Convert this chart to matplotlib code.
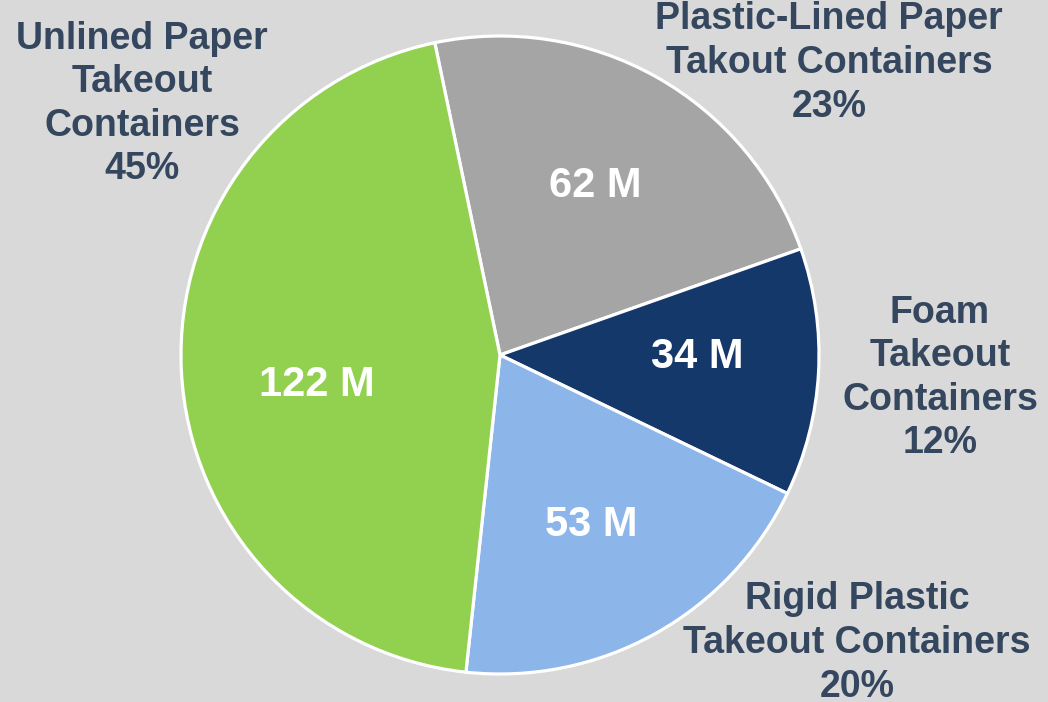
import matplotlib
matplotlib.use("Agg")
import matplotlib.pyplot as plt

categories = ["Plastic-Lined Paper\nTakout Containers", "Foam\nTakeout\nContainers",
              "Rigid Plastic\nTakeout Containers", "Unlined Paper\nTakeout\nContainers"]
values = [62, 34, 53, 122]          # millions
percent_labels = ["23%", "12%", "20%", "45%"]
value_labels = ["62 M", "34 M", "53 M", "122 M"]
colors = ["#A5A5A5", "#15386A", "#8CB5E9", "#92D050"]

W, H = 1048, 702
fig = plt.figure(figsize=(W / 100, H / 100), dpi=100)
fig.patch.set_facecolor("#D9D9D9")
ax = fig.add_axes([0, 0, 1, 1])

plt.rcParams['font.family'] = ['Liberation Sans', 'DejaVu Sans']

it = iter(value_labels)
wedges, texts, autotexts = ax.pie(
    values, colors=colors, startangle=101.8, counterclock=False,
    center=(500, H - 355), radius=319, frame=True,
    autopct=lambda p: next(it), pctdistance=0.6,
    wedgeprops=dict(edgecolor="white", linewidth=2.3),
    textprops=dict(color="white", fontsize=30, fontweight="bold"))
ax.set_xlim(0, W)
ax.set_ylim(0, H)
ax.set_aspect("equal")
ax.axis("off")

inner_pos = [(595, H - 186), (697, H - 357), (591, H - 525), (317, H - 385)]
for t, (x, y) in zip(autotexts, inner_pos):
    t.set_position((x, y))

outer_pos = [(829, H - 63), (940, H - 378), (857, H - 643), (142, H - 104)]
for cat, pct, (x, y) in zip(categories, percent_labels, outer_pos):
    ax.text(x, y, cat + "\n" + pct, ha="center", va="center", color="#34475F",
            fontsize=27, fontweight="bold", linespacing=1.27)

fig.savefig("out.png", dpi=100, facecolor=fig.get_facecolor())
